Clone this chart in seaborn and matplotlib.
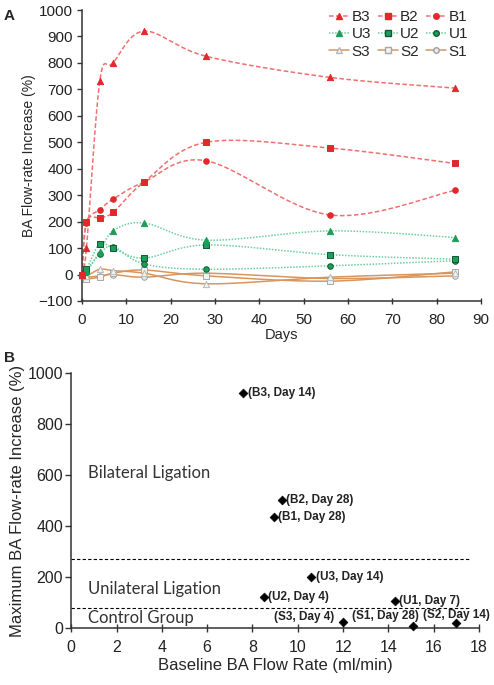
import numpy as np
import pandas as pd
import matplotlib
matplotlib.use("Agg")
import matplotlib.pyplot as plt
from matplotlib.lines import Line2D
import seaborn as sns

# ---------------- data ----------------
days = [0, 1, 4, 7, 14, 28, 56, 84]
B3 = [0, 100, 730, 800, 920, 825, 745, 705]
B2 = [0, 200, 215, 235, 350, 500, 478, 420]
B1 = [0, 195, 245, 285, 350, 430, 225, 318]
U3 = [0, 15, 85, 165, 195, 130, 165, 140]
U2 = [0, 20, 117, 100, 62, 112, 75, 58]
U1 = [0, 10, 78, 105, 40, 20, 33, 52]
S3 = [0, -5, 20, 15, 5, -35, -10, 5]
S2 = [0, -15, -10, 5, 17, -5, -25, 10]
S1 = [0, -10, -5, 0, -10, 5, -15, -5]
series_names = ["B3", "B2", "B1", "U3", "U2", "U1", "S3", "S2", "S1"]
series_vals = [B3, B2, B1, U3, U2, U1, S3, S2, S1]

base_flow = [7.6, 9.3, 8.95, 10.6, 8.5, 14.3, 12.0, 15.1, 17.0]
max_increase = [921, 500, 434, 198, 119, 106, 22, 7, 17]
point_labels = ["(B3, Day 14)", "(B2, Day 28)", "(B1, Day 28)", "(U3, Day 14)",
                "(U2, Day 4)", "(U1, Day 7)", "(S3, Day 4)", "(S1, Day 28)",
                "(S2, Day 14)"]
group_thresholds = [272, 79]
group_names = ["Bilateral Ligation", "Unilateral Ligation", "Control Group"]
group_text_y = [607, 152, 40]

# ---------------- styles ----------------
RED_L, RED_M = "#ef7070", "#e3282c"
GRN_L, GRN_M, GRN_E = "#6ccfa0", "#1f9c5a", "#0e5c33"
TAN_L = "#d9955c"
style = {
    "B3": dict(lc=RED_L, ls=(0, (3, 1.6)), m="^", ms=4.5, fc=RED_M, ec=RED_M),
    "B2": dict(lc=RED_L, ls=(0, (3, 1.6)), m="s", ms=5.0, fc=RED_M, ec=RED_M),
    "B1": dict(lc=RED_L, ls=(0, (3, 1.6)), m="o", ms=4.0, fc=RED_M, ec=RED_M),
    "U3": dict(lc=GRN_L, ls=(0, (1, 1)), m="^", ms=4.5, fc=GRN_M, ec=GRN_M),
    "U2": dict(lc=GRN_L, ls=(0, (1, 1)), m="s", ms=5.0, fc=GRN_M, ec=GRN_E),
    "U1": dict(lc=GRN_L, ls=(0, (1, 1)), m="o", ms=4.0, fc=GRN_M, ec=GRN_E),
    "S3": dict(lc=TAN_L, ls="-", m="^", ms=4.5, fc="#f2f2f2", ec="#b8b8b8"),
    "S2": dict(lc=TAN_L, ls="-", m="s", ms=4.5, fc="#f2f2f2", ec="#a8a8a8"),
    "S1": dict(lc=TAN_L, ls="-", m="o", ms=4.0, fc="#e8e8e8", ec="#a0a0a0"),
}


def smooth(x, y, n=24):
    """Excel-style smoothed line (Catmull-Rom Bezier through the points)."""
    P = np.column_stack([x, y]).astype(float)
    Pe = np.vstack([P[0], P, P[-1]])
    out = []
    t = np.linspace(0, 1, n)[:, None]
    for i in range(len(P) - 1):
        p0, p3 = Pe[i + 1], Pe[i + 2]
        c1 = p0 + (Pe[i + 2] - Pe[i]) / 6.0
        c2 = p3 - (Pe[i + 3] - Pe[i + 1]) / 6.0
        seg = ((1 - t) ** 3) * p0 + 3 * ((1 - t) ** 2) * t * c1 + 3 * (1 - t) * t ** 2 * c2 + t ** 3 * p3
        out.append(seg if i == 0 else seg[1:])
    out = np.vstack(out)
    return out[:, 0], out[:, 1]


sns.set_theme(style="ticks")
plt.rcParams["font.family"] = ["Liberation Sans", "DejaVu Sans"]

AXC = "#333333"
fig = plt.figure(figsize=(4.94, 6.85), dpi=100)
axA = fig.add_axes([0.166, 0.5606, 0.808, 0.4248])
axB = fig.add_axes([0.1443, 0.0836, 0.8253, 0.3715])

# ---------------- panel A ----------------
for name, vals in zip(series_names[::-1], series_vals[::-1]):
    st = style[name]
    sx, sy = smooth(days, vals)
    sns.lineplot(x=sx, y=sy, ax=axA, color=st["lc"], linestyle=st["ls"],
                 linewidth=1.1, sort=False, estimator=None, legend=False)
for name, vals in zip(series_names[::-1], series_vals[::-1]):
    st = style[name]
    sns.scatterplot(x=days, y=vals, ax=axA, marker=st["m"], s=st["ms"] ** 2,
                    color=st["fc"], edgecolor=st["ec"], linewidth=0.7,
                    legend=False, clip_on=False, zorder=5)

axA.set_xlim(0, 90)
axA.set_ylim(-100, 1000)
axA.set_xticks(range(0, 91, 10))
axA.set_yticks(range(-100, 1001, 100))
axA.set_xlabel("Days", fontsize=10.5, labelpad=1)
axA.set_ylabel("BA Flow-rate Increase (%)", fontsize=10, labelpad=2)
axA.tick_params(labelsize=11, length=3.5, width=1, pad=3, colors=AXC,
                labelcolor="#222222")
axA.tick_params(axis="x", direction="inout", length=5, pad=6)
for sp in ["top", "right"]:
    axA.spines[sp].set_visible(False)
for sp in ["left", "bottom"]:
    axA.spines[sp].set_color(AXC)
    axA.spines[sp].set_linewidth(1.1)

handles = []
order = ["B3", "U3", "S3", "B2", "U2", "S2", "B1", "U1", "S1"]
for name in order:
    st = style[name]
    handles.append(Line2D([], [], color=st["lc"], linestyle=st["ls"], linewidth=1.1,
                          marker=st["m"], markersize=st["ms"],
                          markerfacecolor=st["fc"], markeredgecolor=st["ec"], label=name))
axA.legend(handles=handles, ncol=3, loc="upper right", bbox_to_anchor=(0.99, 1.03),
           frameon=False, fontsize=11, handlelength=1.3, handletextpad=0.15,
           columnspacing=0.45, labelspacing=0.2, borderaxespad=0.2)

fig.text(0.008, 0.977, "A", fontsize=11, fontweight="bold", ha="left", va="center")

# ---------------- panel B ----------------
sns.scatterplot(x=base_flow, y=max_increase, ax=axB, marker="D", s=20,
                color="black", edgecolor="black", linewidth=0.5,
                legend=False, clip_on=False, zorder=5)

offsets = {"(S3, Day 4)": (-6, 3.5, "right"),
           "(S1, Day 28)": (4, 7, "right"),
           "(S2, Day 14)": (0, 6, "center")}
for x, y, lab in zip(base_flow, max_increase, point_labels):
    dx, dy, ha = offsets.get(lab, (3, 0, "left"))
    axB.annotate(lab, (x, y), xytext=(dx, dy), textcoords="offset points",
                 ha=ha, va="center", fontsize=8.5, fontweight="bold",
                 color="#222222", family=["Liberation Sans", "DejaVu Sans"])

axB.hlines(group_thresholds, 0, 17.6, colors="black", linestyles=(0, (3, 2)),
           linewidth=0.8)
for txt, ty in zip(group_names, group_text_y):
    axB.text(0.75, ty, txt, fontsize=12, va="center", ha="left",
             family=["Lato", "DejaVu Sans"], color="#333333")

axB.set_xlim(0, 18)
axB.set_ylim(0, 1000)
axB.set_xticks(range(0, 19, 2))
axB.set_yticks(range(0, 1001, 200))
axB.set_xlabel("Baseline BA Flow Rate (ml/min)", fontsize=12, labelpad=2)
axB.set_ylabel("Maximum BA Flow-rate Increase (%)", fontsize=12, labelpad=2)
axB.tick_params(labelsize=11.5, length=4, width=1, pad=2, colors=AXC,
                labelcolor="#222222")
axB.tick_params(axis="x", direction="inout", length=6, pad=6)
for sp in ["top", "right"]:
    axB.spines[sp].set_visible(False)
for sp in ["left", "bottom"]:
    axB.spines[sp].set_color(AXC)
    axB.spines[sp].set_linewidth(1.1)

fig.text(0.008, 0.478, "B", fontsize=11, fontweight="bold", ha="left", va="center")

fig.savefig("out.png", dpi=100)
